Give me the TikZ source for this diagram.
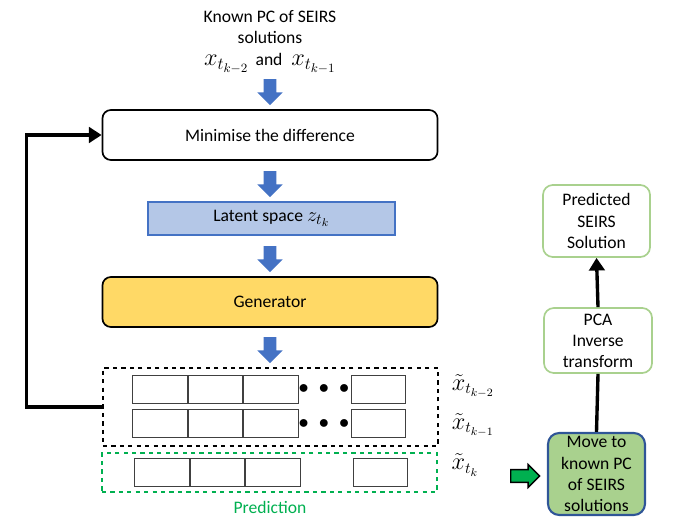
\documentclass[tikz,border=0pt]{standalone}
\usepackage{fontspec}
\setmainfont{Carlito}
\usepackage{tikz}
\usetikzlibrary{arrows.meta, shapes.arrows, positioning}
\definecolor{arrowblue}{HTML}{4472C4}
\definecolor{latentfill}{HTML}{B4C7E7}
\definecolor{genyellow}{HTML}{FFD966}
\definecolor{softgreen}{HTML}{A9D18E}
\definecolor{brightgreen}{HTML}{00B050}
\definecolor{darkblue}{HTML}{2F5597}

\begin{document}
\begin{tikzpicture}[
  x=0.025cm, y=-0.025cm,
  font=\fontsize{12.5}{15}\selectfont,
  downarr/.style={single arrow, fill=arrowblue, draw=none, inner sep=0.15cm,
                  minimum height=0.65cm, single arrow head extend=0.16cm,
                  shape border rotate=270},
  rightarr/.style={single arrow, fill=brightgreen, draw=black, line width=1pt, inner sep=0.14cm,
                   minimum height=0.72cm, single arrow head extend=0.13cm},
  plainbox/.style={draw=black, line width=1.2pt, rounded corners=6pt,
                   minimum width=8.375cm, minimum height=1.25cm, align=center},
  latentbox/.style={draw=arrowblue, fill=latentfill, line width=1pt,
                    minimum width=6.175cm, minimum height=0.825cm},
  genbox/.style={plainbox, fill=genyellow},
  cell/.style={draw=black!75, line width=0.6pt, minimum width=1.3625cm,
               minimum height=0.7cm, inner sep=0pt},
  greenbox/.style={draw=softgreen, line width=1.2pt, rounded corners=7pt,
                   align=center, inner sep=0pt},
  movebox/.style={draw=darkblue, fill=softgreen, line width=1.5pt, rounded corners=8pt,
                  align=center, inner sep=0pt, minimum width=2.425cm, minimum height=2.05cm},
  fb/.style={line width=2.4pt, -{Triangle[length=9pt, width=11pt]}},
  vline/.style={line width=2.4pt}
]
\useasboundingbox (0,0) rectangle (675,517);

% input and encoder column
\node[align=center, inner sep=1pt] (known) at (270,42) {Known PC of SEIRS\\solutions\\[1pt]
  {\fontsize{18}{18}\selectfont $x_{t_{k-2}}$}\, and\; {\fontsize{18}{18}\selectfont $x_{t_{k-1}}$}};
\node[downarr] (d1) at (270,89) {};
\node[plainbox] (mini) at (270,135) {Minimise the difference};
\node[downarr] (d2) at (270,181) {};
\node[latentbox] (latent) at (271.5,218.5) {Latent space {\fontsize{15.5}{15.5}\selectfont $z_{t_k}$}};
\node[downarr] (d3) at (270,256) {};
\node[genbox] (gen) at (270,302) {Generator};
\node[downarr] (d4) at (270,347) {};

% generated rows
\node[draw=black, dashed, line width=1pt, minimum width=8.375cm, minimum height=1.95cm] (prev) at (270.5,407) {};
\node[draw=brightgreen, dashed, line width=1pt, minimum width=8.375cm, minimum height=0.975cm] (pred) at (269.5,472.5) {};

\node[cell] (a1) at (160,389) {};
\node[cell, right=0pt of a1] (a2) {};
\node[cell, right=0pt of a2] (a3) {};
\node[cell] (a4) at (378.5,389) {};
\node (adots) at (324,389) {\Large $\bullet\;\bullet\;\bullet$};

\node[cell] (b1) at (160,423.5) {};
\node[cell, right=0pt of b1] (b2) {};
\node[cell, right=0pt of b2] (b3) {};
\node[cell] (b4) at (378.5,423.5) {};
\node (bdots) at (324,423.5) {\Large $\bullet\;\bullet\;\bullet$};

\node[cell] (c1) at (162,472.5) {};
\node[cell, right=0pt of c1] (c2) {};
\node[cell, right=0pt of c2] (c3) {};
\node[cell] (c4) at (380.5,472.5) {};

\node (lab1) at (473,386) {\fontsize{16}{16}\selectfont $\tilde{x}_{t_{k-2}}$};
\node (lab2) at (473,425) {\fontsize{16}{16}\selectfont $\tilde{x}_{t_{k-1}}$};
\node (lab3) at (465,465) {\fontsize{16}{16}\selectfont $\tilde{x}_{t_{k}}$};
\node[text=brightgreen, inner sep=1pt] (predlab) at (270,507) {Prediction};

% output column
\node[rightarr] (g1) at (522,476) {};
\node[movebox] (move) at (596.5,474) {Move to\\known PC\\of SEIRS\\solutions};
\node[greenbox, minimum width=2.7cm, minimum height=1.625cm] (pca) at (598,340.5) {PCA\\Inverse\\transform};
\node[greenbox, minimum width=2.675cm, minimum height=1.8cm] (result) at (596.5,221) {Predicted\\SEIRS\\Solution};

\draw[fb] (prev.west) -- ++(-76,0) |- (mini.west);
\draw[vline] (move.north) -- (pca.south);
\draw[vline, -{Triangle[length=9pt, width=11pt]}] (pca.north) -- (result.south);
\end{tikzpicture}
\end{document}
